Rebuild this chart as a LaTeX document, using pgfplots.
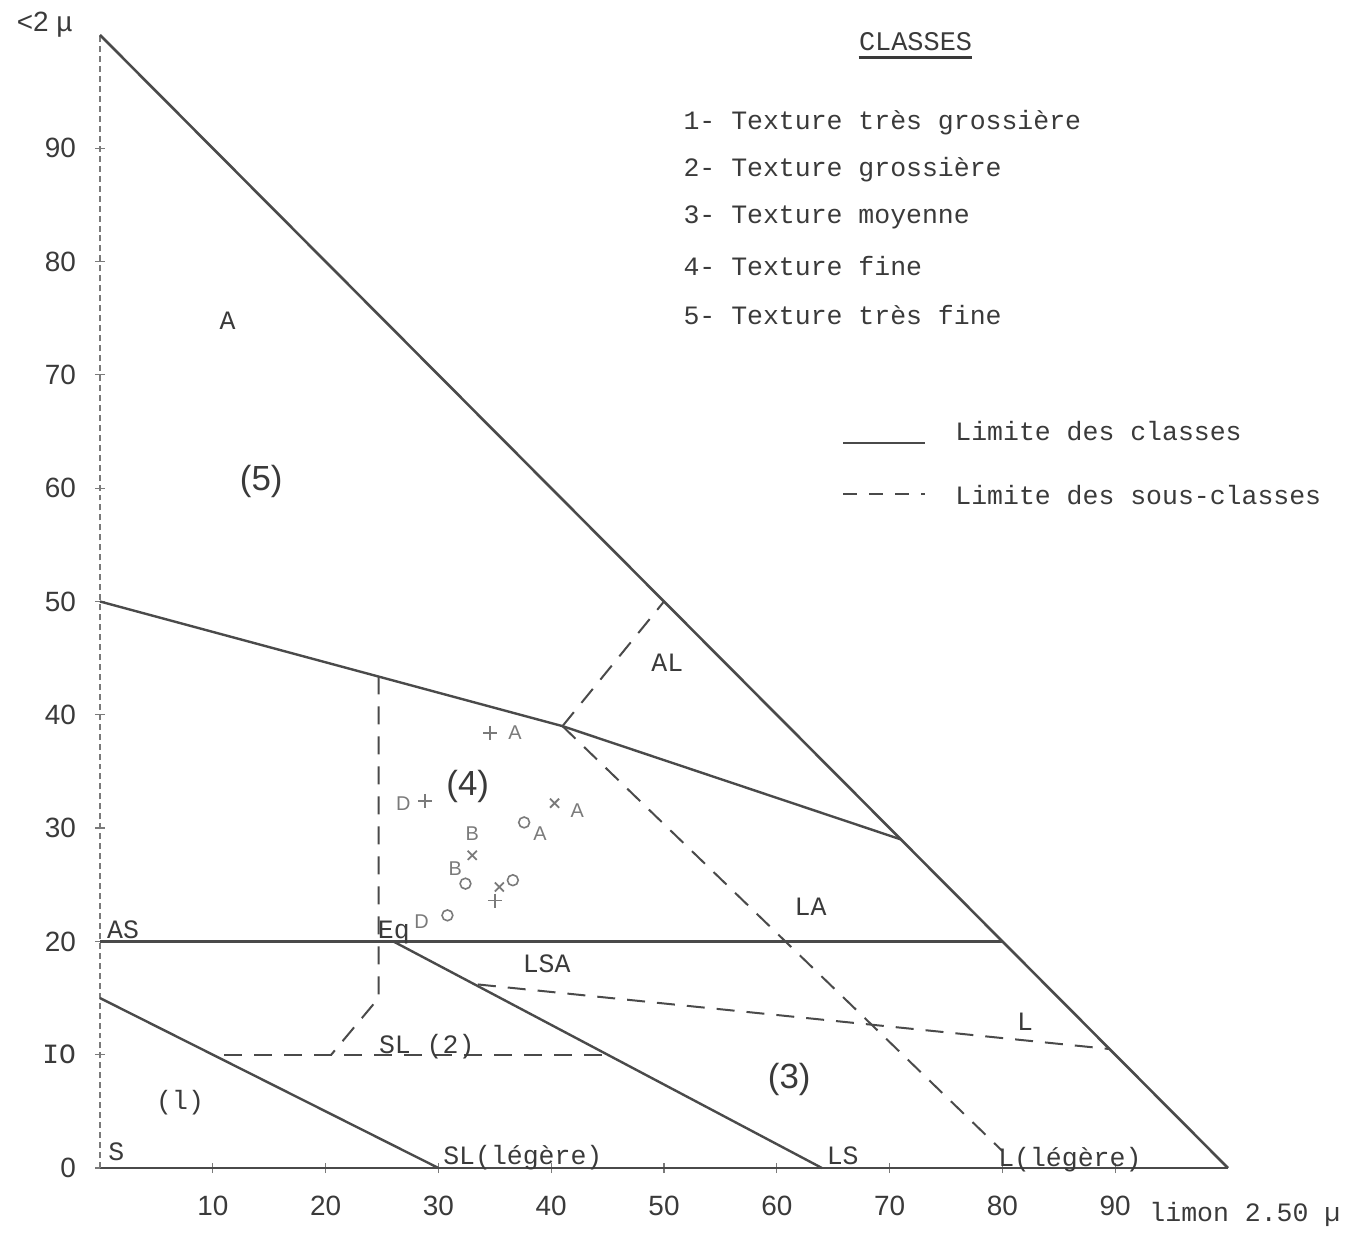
\documentclass[border=0pt]{standalone}
\usepackage{pgfplots}
\pgfplotsset{compat=1.18}
\usepackage{fontspec}
\setmainfont{Liberation Mono}
\newfontfamily\sansf{Liberation Sans}
\usetikzlibrary{plotmarks}
\definecolor{ink}{HTML}{3A3A3A}
\definecolor{lin}{HTML}{4A4A4A}
\definecolor{mk}{HTML}{7A7A7A}
\begin{document}
\begin{tikzpicture}
\begin{axis}[
  scale only axis, width=564bp, height=566.5bp,
  xmin=0, xmax=100, ymin=0, ymax=100,
  axis lines*=left, clip=false,
  x axis line style={draw=lin, line width=1.3bp},
  y axis line style={draw=mk, densely dashed, line width=0.9bp},
  xtick={10,20,...,90}, xticklabels={10,20,30,40,50,60,70,80,90},
  ytick={0,10,...,90}, yticklabels={0,{\rmfamily IO},20,30,40,50,60,70,80,90},
  tick label style={font=\fontsize{14}{16}\sansf, text=ink},
  xticklabel style={yshift=-8bp},
  yticklabel style={xshift=-6bp},
  major tick length=5bp, tick align=center,
  tick style={draw=mk, line width=0.6bp},
  text mark as node=true,
  text mark style={font=\fontsize{10}{11}\sansf, text=mk, inner sep=0pt},
]
% class limits (solid)
\addplot[lin, line width=1.3bp] coordinates {(0,100) (100,0)};
\addplot[lin, line width=1.2bp] coordinates {(0,50) (41,39) (71,29)};
\addplot[lin, line width=1.2bp] coordinates {(0,20) (80,20)};
\addplot[lin, line width=1.2bp] coordinates {(0,15) (30,0)};
\addplot[lin, line width=1.2bp] coordinates {(26,20) (64,0)};
% sub-class limits (dashed)
\addplot[lin, line width=1bp, dash pattern=on 9bp off 6bp] coordinates {(24.7,43.4) (24.7,15) (20.5,10)};
\addplot[lin, line width=1bp, dash pattern=on 9bp off 6bp] coordinates {(11,10) (44.5,10)};
\addplot[lin, line width=1bp, dash pattern=on 9bp off 6bp] coordinates {(33.5,16.2) (89.5,10.5)};
\addplot[lin, line width=1bp, dash pattern=on 9bp off 6bp] coordinates {(41,39) (50,50)};
\addplot[lin, line width=1bp, dash pattern=on 9bp off 6bp] coordinates {(41,39) (80,1.5)};
% samples
\addplot[only marks, mark=o, mark size=2.7bp, mk, line width=0.8bp] coordinates {(37.6,30.5) (32.4,25.1) (36.6,25.4) (30.8,22.3)};
\addplot[only marks, mark=+, mark size=3.5bp, mk, line width=0.8bp] coordinates {(28.8,32.4) (34.6,38.4) (35.0,23.6)};
\addplot[only marks, mark=x, mark size=3.2bp, mk, line width=0.9bp] coordinates {(40.3,32.2) (33.0,27.6) (35.4,24.8)};
\addplot[only marks, mark=text, text mark=A, mk] coordinates {(36.8,38.4) (42.3,31.5) (39.0,29.5)};
\addplot[only marks, mark=text, text mark=B, mk] coordinates {(33.0,29.5) (31.5,26.4)};
\addplot[only marks, mark=text, text mark=D, mk] coordinates {(26.9,32.2) (28.5,21.7)};
% region labels
\begin{scope}[every node/.style={text=ink, font=\fontsize{13.3}{15}\selectfont, inner sep=0pt}]
\node at (axis cs:11.3,74.8) {A};
\node at (axis cs:50.3,44.6) {AL};
\node at (axis cs:63,23.1) {LA};
\node at (axis cs:39.6,18) {LSA};
\node at (axis cs:82,12.9) {L};
\node[anchor=base west] at (axis cs:24.7,10.1) {SL (2)};
\node at (axis cs:7.1,5.8) {(l)};
\node[anchor=base west] at (axis cs:0.7,0.7) {S};
\node[anchor=base west] at (axis cs:30.4,0.3) {SL(légère)};
\node[anchor=base west] at (axis cs:64.4,0.3) {LS};
\node[anchor=base west] at (axis cs:79.6,0.1) {L(légère)};
\node[anchor=base west] at (axis cs:0.6,20.3) {AS};
\node[anchor=base west] at (axis cs:24.6,20.3) {Eq};
\node[font=\fontsize{17.5}{20}\sansf] at (axis cs:14.3,60.6) {(5)};
\node[font=\fontsize{17.5}{20}\sansf] at (axis cs:32.6,33.7) {(4)};
\node[font=\fontsize{17.5}{20}\sansf] at (axis cs:61.1,7.8) {(3)};
% axis titles
\node[font=\fontsize{14}{16}\sansf] at (axis cs:-4.9,100.9) {<2 µ};
\node[anchor=west, font=\fontsize{13.3}{15}\selectfont] at (axis cs:93.0,-4.1) {limon 2.50 µ};
% legend
\node[font=\fontsize{13.5}{15}\selectfont] (cl) at (axis cs:72.3,99.4) {CLASSES};
\draw[ink, line width=1.3bp] ([yshift=-3bp]cl.south west) -- ([yshift=-3bp]cl.south east);
\node[anchor=west] at (axis cs:51.7,92.3) {1- Texture très grossière};
\node[anchor=west] at (axis cs:51.7,88.1) {2- Texture grossière};
\node[anchor=west] at (axis cs:51.7,83.9) {3- Texture moyenne};
\node[anchor=west] at (axis cs:51.7,79.6) {4- Texture fine};
\node[anchor=west] at (axis cs:51.7,75.3) {5- Texture très fine};
\draw[lin, line width=1.3bp] (axis cs:65.9,64.0) -- (axis cs:73.1,64.0);
\draw[lin, line width=1.3bp, dash pattern=on 7bp off 6bp] (axis cs:65.9,59.5) -- (axis cs:73.1,59.5);
\node[anchor=west] at (axis cs:75.8,65.0) {Limite des classes};
\node[anchor=west] at (axis cs:75.8,59.4) {Limite des sous-classes};
\end{scope}
\end{axis}
\pgfresetboundingbox
\path (-50bp,-32.5bp) rectangle (624.5bp,584bp);
\end{tikzpicture}
\end{document}
